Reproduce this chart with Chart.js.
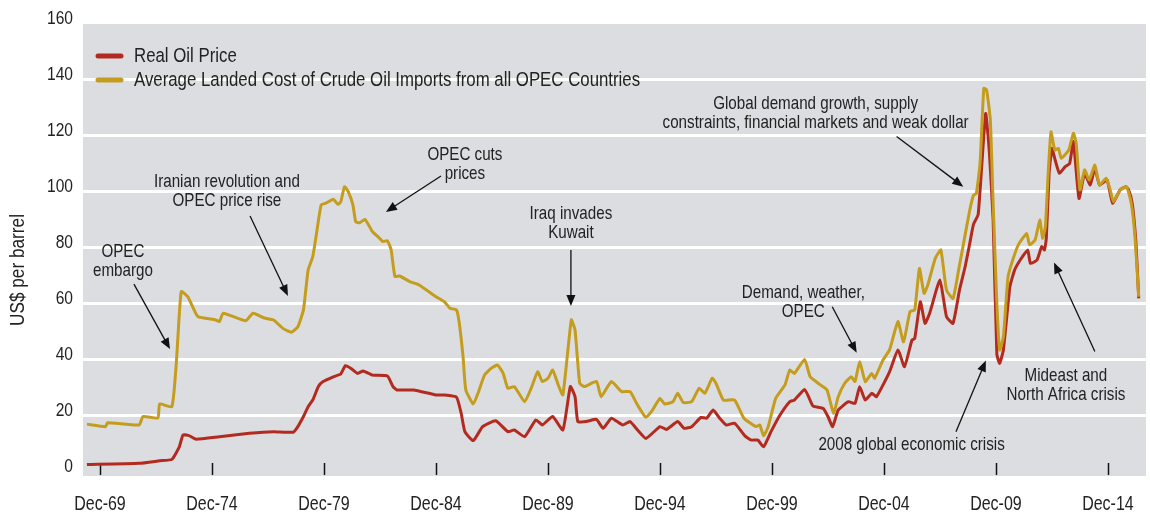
<!DOCTYPE html>
<html>
<head>
<meta charset="utf-8">
<script src="https://cdn.jsdelivr.net/npm/chart.js@4.4.1/dist/chart.umd.min.js"></script>
<style>
  html, body { margin: 0; padding: 0; background: #fff; }
</style>
</head>
<body>
<canvas id="oilChart" width="1150" height="515"></canvas>
<script>
// months are counted from Dec-1969 (0 = Dec-69, 60 = Dec-74, ...)
const realMonths = [-7, 21, 32, 38.5, 42.5, 44.5, 48, 51.5, 64, 80, 93, 103.5, 106, 109, 111.5, 114, 117, 119.5, 125, 129,
  131.5, 134.5, 138, 141, 146, 154, 157, 159, 168, 180, 184, 191, 193.5, 195.5, 200, 205, 212, 218.5, 222, 227.5,
  233.5, 237, 242.5, 248, 252, 254.5, 256, 260.5, 266, 269.5, 274, 280, 284, 288, 292.5, 300, 303.5, 309.5, 313, 317,
  322, 325, 328.5, 332, 335.5, 340, 345.5, 349, 352.5, 355.5, 359.5, 364, 369.5, 372, 377.5, 380, 382, 387.5, 390, 392.5,
  395.5, 401, 404.5, 407, 410, 413.5, 416, 423, 427.5, 431, 435, 436.5, 439.5, 442, 444.5, 450, 453.5, 457, 460.5, 463.5,
  466, 468, 470.5, 474.5, 476.5, 478.5, 480.5, 482, 484, 487.5, 490, 493, 497, 498.5, 502, 504.5, 506, 507, 508.5, 510,
  511.5, 514, 517, 519.5, 521.5, 524.5, 527.5, 530.5, 533, 535.5, 539.5, 542.5, 546.5, 549.5, 551, 553, 555, 556.5];
const realPrice = [2.7, 3.1, 4.0, 4.5, 9.0, 13.2, 12.9, 11.7, 12.6, 13.8, 14.4, 14.2, 16.2, 19.8, 23.3, 25.7, 30.5, 32.3, 34, 35,
  38, 37, 35.2, 36.1, 34.6, 34.3, 30.5, 29.3, 29.3, 27.5, 27.5, 26.7, 21, 14.4, 11.2, 16.2, 18.3, 14.4, 15, 12.6,
  18.6, 16.8, 19.8, 15, 30.5, 26.9, 18, 18, 18.8, 15.6, 19.2, 16.8, 18, 15, 12, 16.2, 15.2, 18, 15.6, 16.2,
  19.5, 19.2, 22.1, 19.2, 16.8, 17.4, 12.9, 11.4, 11.4, 9.0, 14.4, 20, 25.1, 25.7, 29.5, 26.3, 23.6, 22.7, 19.8, 16.2,
  22.1, 25.1, 24.5, 30.5, 25.7, 28.1, 26.9, 35.8, 43.6, 37.6, 47.1, 47.7, 60.8, 53.1, 56.7, 68.6, 55.5, 53.1, 65, 73.3,
  81.7, 88.5, 92, 128, 114, 90, 42, 38.8, 43.6, 66.2, 72.1, 75.7, 79.3, 74.5, 75.7, 80.5, 79.3, 83.5, 106.7, 115.6,
  112, 106.7, 109, 110.2, 118, 97.7, 106.7, 102.5, 108.5, 102.5, 104.3, 96, 100.7, 101.9, 101, 96, 82, 62];

const landedMonths = [-7, 3, 4, 21, 23, 31, 32, 38.5, 41, 43.5, 47, 50, 52.5, 62, 64, 66, 78, 82, 88, 93,
  98, 102.5, 106, 109, 111.5, 114, 116, 118.5, 121, 125, 127.5, 129, 131, 133, 135.5, 137, 139, 142, 146, 149,
  151.5, 154, 156, 158, 160.5, 166, 171, 180, 184.5, 187.5, 191, 192.5, 194.5, 196, 200, 202.5, 206, 209.5, 213, 216,
  218.5, 222, 227.5, 231, 234.5, 237, 240, 242.5, 245.5, 248, 252.5, 254.5, 257, 259.5, 266, 268.5, 274, 279.5, 284, 288,
  292.5, 296, 300, 302.5, 307, 309.5, 312.5, 317, 321, 324, 328, 330, 334, 340, 345, 351.5, 353.5, 355.5, 358, 362,
  367, 369.5, 372, 377.5, 380.5, 386, 389.5, 393, 395.5, 399, 402.5, 404.5, 407, 410, 413.5, 415, 419.5, 423, 427.5, 430.5,
  434, 436.5, 439, 441.5, 443.5, 447.5, 450.5, 453.5, 457, 460, 463, 466, 468, 469.5, 471.5, 473.5, 475, 477, 478.5, 480.5,
  482, 484, 486.5, 489, 492, 496.5, 498, 501, 503.5, 505, 506.5, 508, 509.5, 511.5, 513.5, 515, 519, 521.5, 523, 525,
  527.5, 530, 533, 535.5, 539, 541, 543, 546.5, 550, 552.5, 554.5, 556.5];
const landedCost = [17.1, 16.2, 17.6, 16.8, 19.8, 19.3, 24.3, 23.3, 40, 64.4, 62.6, 58.5, 55.5, 54.3, 53.7, 56.7, 54, 56.7, 55, 54.3,
  51.3, 49.9, 51.9, 57.9, 72.1, 76.9, 85.2, 95.4, 96, 97.4, 95.6, 96.5, 101.9, 100.1, 95.4, 89.4, 89.0, 90.2, 85.8, 84.0,
  82.3, 82.6, 79.3, 69.8, 70, 68, 66.8, 62.6, 60.8, 58.5, 57.9, 53.1, 41.2, 29.3, 24.3, 28.1, 34.6, 37.0, 38.2, 35.2,
  29.9, 30.5, 25.1, 29.9, 35.8, 32.3, 33.5, 36.4, 31.1, 27.5, 54.3, 50.7, 31.7, 30.5, 32.3, 26.9, 32.3, 28.7, 28.7, 23.9,
  19.5, 22.1, 26.3, 24.3, 25.1, 28.1, 24.8, 25.1, 29.9, 28.1, 33.5, 31.7, 25.7, 25.7, 19.2, 16.2, 16.8, 12.9, 16.2, 26.3,
  31.1, 36.4, 35.2, 40.2, 34, 31.1, 29.3, 21, 26.9, 31.7, 34, 32.3, 39.4, 32.3, 35.2, 33.5, 40, 43.6, 53.7, 46.5,
  57.3, 57.9, 72.7, 63.8, 66.8, 76.3, 79.3, 65, 62, 72.1, 82.9, 93.6, 98.9, 99.5, 110.2, 137, 136.4, 125.7, 96, 60.2,
  43.6, 48.3, 69.8, 75.7, 81.1, 85.2, 81.1, 82.9, 90, 83.5, 87.6, 106.7, 121.5, 115, 115.6, 112, 115, 121, 117.4, 100.7,
  107.9, 104.3, 109.6, 102.5, 104.9, 101.3, 96.5, 100.7, 101.9, 96, 84, 62.6];

const tickMonths = [0, 60, 120, 180, 240, 300, 360, 420, 480, 540];
const tickLabels = ['Dec-69', 'Dec-74', 'Dec-79', 'Dec-84', 'Dec-89', 'Dec-94', 'Dec-99', 'Dec-04', 'Dec-09', 'Dec-14'];
const yTicks = [0, 20, 40, 60, 80, 100, 120, 140, 160];

// event notes: text lines, centre of first line and arrow (from -> to), all in [month, price]
const notes = [
  { lines: ['OPEC', 'embargo'], at: [12.3, 78.6], arrow: [[18.2, 67.1], [37.5, 43.9]] },
  { lines: ['Iranian revolution and', 'OPEC price rise'], at: [68, 103.6], arrow: [[80.4, 91.4], [100.7, 62.9]] },
  { lines: ['OPEC cuts', 'prices'], at: [195.5, 113.2], arrow: [[182.7, 105.7], [153.2, 92.9]] },
  { lines: ['Iraq invades', 'Kuwait'], at: [252.3, 92.1], arrow: [[252.3, 79.3], [252.3, 59.3]] },
  { lines: ['Global demand growth, supply', 'constraints, financial markets and weak dollar'], at: [383.4, 131.4], arrow: [[426.8, 119.8], [462.5, 101.9]] },
  { lines: ['Demand, weather,', 'OPEC'], at: [376.8, 63.8], arrow: [[392.3, 59], [405.4, 42.6]] },
  { lines: ['Mideast and', 'North Africa crisis'], at: [517.5, 34.3], arrow: [[533, 43], [511.1, 74.8]] },
  { lines: ['2008 global economic crisis'], at: [434.8, 9.6], arrow: [[458.6, 14.4], [474.6, 39.8]] }
];

const FONT = "'Liberation Sans', Arial, sans-serif";
const TEXT = '#222222';
const NARROW = 0.82; // squeeze glyphs to a condensed face

// draw text squeezed horizontally around its anchor
function narrowText(ctx, str, x, y, size, align) {
  ctx.save();
  ctx.font = size + 'px ' + FONT;
  ctx.textAlign = align;
  ctx.textBaseline = 'middle';
  ctx.translate(x, y);
  ctx.scale(NARROW, 1);
  ctx.fillText(str, 0, 0);
  ctx.restore();
}

const plotBackground = {
  id: 'plotBackground',
  beforeDraw(chart) {
    const { ctx, chartArea: a } = chart;
    ctx.save();
    ctx.fillStyle = '#dcdde0';
    ctx.fillRect(a.left, a.top, a.right - a.left, a.bottom - a.top);
    ctx.restore();
  },
  beforeDatasetsDraw(chart) {
    // short tick marks standing up from the bottom of the plot
    const { ctx, chartArea: a, scales } = chart;
    ctx.save();
    ctx.strokeStyle = '#111';
    ctx.lineWidth = 1.5;
    tickMonths.forEach(m => {
      const x = Math.round(scales.x.getPixelForValue(m)) + 0.5;
      ctx.beginPath();
      ctx.moveTo(x, a.bottom - 13);
      ctx.lineTo(x, a.bottom - 1);
      ctx.stroke();
    });
    ctx.restore();
  }
};

function drawArrow(ctx, x1, y1, x2, y2) {
  const ang = Math.atan2(y2 - y1, x2 - x1);
  const len = 11, half = 4.5;
  ctx.beginPath();
  ctx.moveTo(x1, y1);
  ctx.lineTo(x2 - Math.cos(ang) * len * 0.8, y2 - Math.sin(ang) * len * 0.8);
  ctx.stroke();
  ctx.beginPath();
  ctx.moveTo(x2, y2);
  ctx.lineTo(x2 - Math.cos(ang) * len - Math.sin(ang) * half, y2 - Math.sin(ang) * len + Math.cos(ang) * half);
  ctx.lineTo(x2 - Math.cos(ang) * len + Math.sin(ang) * half, y2 - Math.sin(ang) * len - Math.cos(ang) * half);
  ctx.closePath();
  ctx.fill();
}

const overlay = {
  id: 'overlay',
  afterDraw(chart) {
    const { ctx, chartArea: a, scales } = chart;
    const px = m => scales.x.getPixelForValue(m);
    const py = v => scales.y.getPixelForValue(v);
    ctx.save();
    ctx.fillStyle = TEXT;

    // tick labels
    yTicks.forEach(v => narrowText(ctx, String(v), a.left - 10, py(v) - 5, 19, 'right'));
    tickMonths.forEach((m, i) => narrowText(ctx, tickLabels[i], px(m), a.bottom + 29, 19.5, 'center'));

    // axis title
    ctx.save();
    ctx.translate(18, 270);
    ctx.rotate(-Math.PI / 2);
    narrowText(ctx, 'US$ per barrel', 0, 0, 21, 'center');
    ctx.restore();

    // legend
    chart.data.datasets.forEach((ds, i) => {
      const y = a.top + 32 + i * 24;
      ctx.strokeStyle = ds.borderColor;
      ctx.lineWidth = 5;
      ctx.lineCap = 'round';
      ctx.beginPath();
      ctx.moveTo(a.left + 15, y);
      ctx.lineTo(a.left + 38, y);
      ctx.stroke();
      ctx.fillStyle = TEXT;
      narrowText(ctx, ds.label, a.left + 51, y, 20.5, 'left');
    });

    // notes with arrows
    ctx.lineCap = 'butt';
    ctx.strokeStyle = '#111';
    ctx.lineWidth = 1.3;
    notes.forEach(n => {
      const cx = px(n.at[0]), cy = py(n.at[1]);
      ctx.fillStyle = TEXT;
      n.lines.forEach((t, k) => narrowText(ctx, t, cx, cy + k * 18.5, 18.5, 'center'));
      const [p, q] = n.arrow;
      ctx.fillStyle = '#111';
      drawArrow(ctx, px(p[0]), py(p[1]), px(q[0]), py(q[1]));
    });
    ctx.restore();
  }
};

const toPoints = (xs, ys) => xs.map((x, i) => ({ x: x, y: ys[i] }));

new Chart(document.getElementById('oilChart').getContext('2d'), {
  type: 'line',
  data: {
    datasets: [
      {
        label: 'Real Oil Price',
        data: toPoints(realMonths, realPrice),
        borderColor: '#b32a1f',
        borderWidth: 3,
        pointRadius: 0,
        tension: 0.15,
        order: 1
      },
      {
        label: 'Average Landed Cost of Crude Oil Imports from all OPEC Countries',
        data: toPoints(landedMonths, landedCost),
        borderColor: '#c49c1e',
        borderWidth: 3,
        pointRadius: 0,
        tension: 0.15,
        order: 0
      }
    ]
  },
  options: {
    responsive: false,
    animation: false,
    events: [],
    layout: { padding: { top: 24, right: 4, left: 0, bottom: 0 } },
    plugins: { legend: { display: false }, tooltip: { enabled: false } },
    scales: {
      x: {
        type: 'linear',
        min: -9.1,
        max: 560.4,
        afterBuildTicks: s => { s.ticks = tickMonths.map(v => ({ value: v })); },
        afterFit: s => { s.height = 39; },
        grid: { display: false, drawTicks: false },
        border: { display: false },
        ticks: { display: false }
      },
      y: {
        min: -1.43,
        max: 160,
        afterBuildTicks: s => { s.ticks = yTicks.map(v => ({ value: v })); },
        afterFit: s => { s.width = 83; },
        grid: {
          drawTicks: false,
          lineWidth: 3,
          color: c => (c.tick.value === 0 || c.tick.value === 160) ? 'rgba(0,0,0,0)' : '#ffffff'
        },
        border: { display: false },
        ticks: { display: false }
      }
    }
  },
  plugins: [plotBackground, overlay]
});
</script>
</body>
</html>
